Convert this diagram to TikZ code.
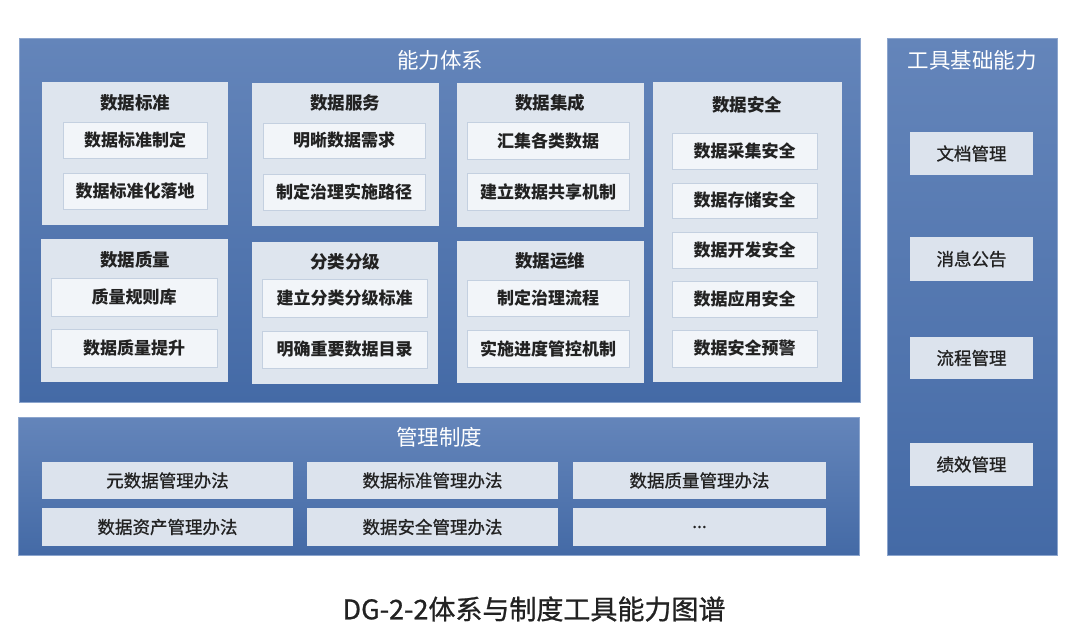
\documentclass[tikz,border=0pt]{standalone}
\usepackage{fontspec}
\setmainfont{Noto Sans CJK SC}
\newfontfamily\cjk{Noto Sans CJK SC}
\newfontfamily\cjkmed[FakeBold=0.9]{Noto Sans CJK SC}
\definecolor{bluetop}{RGB}{100,133,186}
\definecolor{bluebot}{RGB}{68,106,166}
\definecolor{blueedge}{RGB}{140,165,205}
\definecolor{panelfill}{RGB}{222,229,238}
\definecolor{itemfill}{RGB}{242,245,249}
\definecolor{itemedge}{RGB}{196,208,224}
\definecolor{toolfill}{RGB}{220,227,237}
\definecolor{darktext}{RGB}{34,34,34}
\tikzset{
  bigbox/.style={draw=blueedge, line width=0.6pt, top color=bluetop, bottom color=bluebot, inner sep=0pt, outer sep=0pt},
  panelbox/.style={draw=none, fill=panelfill, inner sep=0pt, outer sep=0pt},
  itembox/.style={draw=itemedge, line width=0.6pt, fill=itemfill, inner sep=0pt, outer sep=0pt, text=darktext, font=\cjk\fontsize{17}{20}\selectfont\bfseries},
  toolbox/.style={draw=none, fill=toolfill, inner sep=0pt, outer sep=0pt, text=darktext, font=\cjkmed\fontsize{17.5}{20}\selectfont},
  rulebox/.style={draw=none, fill=toolfill, inner sep=0pt, outer sep=0pt, text=darktext, font=\cjkmed\fontsize{17.5}{20}\selectfont},
  bigtitle/.style={text=white, font=\cjk\fontsize{21.5}{24}\selectfont, inner sep=0pt},
  paneltitle/.style={text=darktext, font=\cjk\fontsize{17.5}{20}\selectfont\bfseries, inner sep=0pt},
  captiontext/.style={text=darktext, font=\cjkmed\fontsize{27}{30}\selectfont, inner sep=0pt}
}
% \bx{name}{style}{x1}{y1}{x2}{y2}{text}
\newcommand{\bx}[7]{\node[#2, anchor=north west, minimum width={#5-#3}, minimum height={#6-#4}] (#1) at (#3,#4) {#7};}
\begin{document}
\begin{tikzpicture}[x=1pt,y=-1pt]
\useasboundingbox (0,0) rectangle (1080,635);
\fill[white] (0,0) rectangle (1080,635);

% big boxes
\bx{cap}{bigbox}{19}{38}{860}{402}{}
\bx{rule}{bigbox}{18}{417}{859}{555}{}
\bx{tool}{bigbox}{887}{38}{1057}{555}{}
\node[bigtitle] (captitle) at (440,60) {能力体系};
\node[bigtitle] (ruletitle) at (439,437) {管理制度};
\node[bigtitle] (tooltitle) at (972,60) {工具基础能力};

% panels
\bx{p1}{panelbox}{42}{82}{228}{225}{}
\bx{p2}{panelbox}{252}{83}{439}{226}{}
\bx{p3}{panelbox}{457}{83}{644}{227}{}
\bx{p4}{panelbox}{653}{82}{842}{382}{}
\bx{p5}{panelbox}{41}{239}{228}{382}{}
\bx{p6}{panelbox}{252}{242}{438}{384}{}
\bx{p7}{panelbox}{457}{241}{644}{383}{}

\node[paneltitle] (t1) at (135,103) {数据标准};
\node[paneltitle] (t2) at (345,103) {数据服务};
\node[paneltitle] (t3) at (550,103) {数据集成};
\node[paneltitle] (t4) at (747,105) {数据安全};
\node[paneltitle] (t5) at (135,260) {数据质量};
\node[paneltitle] (t6) at (345,262) {分类分级};
\node[paneltitle] (t7) at (550,261) {数据运维};

% items
\bx{i11}{itembox}{63}{122}{207}{158}{数据标准制定}
\bx{i12}{itembox}{63}{173}{207}{209}{数据标准化落地}
\bx{i21}{itembox}{263}{123}{425}{158}{明晰数据需求}
\bx{i22}{itembox}{263}{174}{425}{210}{制定治理实施路径}
\bx{i31}{itembox}{467}{122}{629}{159}{汇集各类数据}
\bx{i32}{itembox}{467}{173}{629}{210}{建立数据共享机制}
\bx{i41}{itembox}{672}{133}{817}{169}{数据采集安全}
\bx{i42}{itembox}{672}{183}{817}{218}{数据存储安全}
\bx{i43}{itembox}{672}{232}{817}{268}{数据开发安全}
\bx{i44}{itembox}{672}{281}{817}{317}{数据应用安全}
\bx{i45}{itembox}{672}{330}{817}{367}{数据安全预警}
\bx{i51}{itembox}{51}{278}{217}{316}{质量规则库}
\bx{i52}{itembox}{51}{329}{217}{367}{数据质量提升}
\bx{i61}{itembox}{262}{279}{427}{317}{建立分类分级标准}
\bx{i62}{itembox}{262}{331}{427}{368}{明确重要数据目录}
\bx{i71}{itembox}{467}{280}{629}{316}{制定治理流程}
\bx{i72}{itembox}{467}{330}{629}{367}{实施进度管控机制}

% rules
\bx{r1}{rulebox}{42}{462}{293}{499}{元数据管理办法}
\bx{r2}{rulebox}{307}{462}{558}{499}{数据标准管理办法}
\bx{r3}{rulebox}{573}{462}{826}{499}{数据质量管理办法}
\bx{r4}{rulebox}{42}{508}{293}{546}{数据资产管理办法}
\bx{r5}{rulebox}{307}{508}{558}{546}{数据安全管理办法}
\bx{r6}{rulebox}{573}{508}{826}{546}{...}

% tools
\bx{k1}{toolbox}{910}{132}{1033}{175}{文档管理}
\bx{k2}{toolbox}{910}{237}{1033}{281}{消息公告}
\bx{k3}{toolbox}{910}{337}{1033}{379}{流程管理}
\bx{k4}{toolbox}{910}{443}{1033}{486}{绩效管理}

% caption
\node[captiontext] (caption) at (534,609) {DG-2-2体系与制度工具能力图谱};
\end{tikzpicture}
\end{document}
